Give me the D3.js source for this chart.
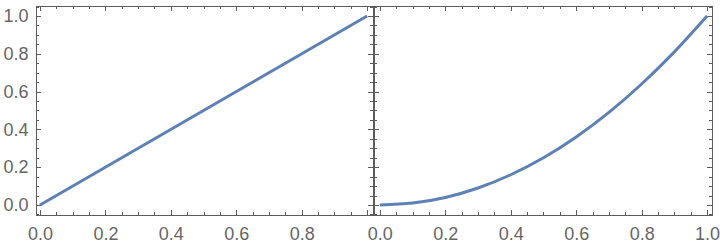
<!DOCTYPE html>
<html>
<head>
<meta charset="utf-8">
<script src="https://cdn.jsdelivr.net/npm/d3@7"></script>
<style>
  body { margin: 0; background: #fff; }
  svg { display: block; }
  .axis text { font-family: 'Liberation Sans', Arial, sans-serif; font-size: 18px; fill: #666; }
  .axis path, .axis line { stroke: #5c5c5c; stroke-width: 1; shape-rendering: crispEdges; }
</style>
</head>
<body>
<div id="chart"></div>
<script>
// left panel: straight line
const linearX = [0, 1]
const linearY = [0, 1]

// right panel: curve
const curveX = [0, 0.1, 0.2, 0.3, 0.4, 0.5, 0.6, 0.7, 0.8, 0.9, 1.0]
const curveY = [0, 0.01, 0.04, 0.09, 0.16, 0.25, 0.36, 0.49, 0.64, 0.81, 1.0]

const majorTicks = [0, 0.2, 0.4, 0.6, 0.8, 1.0]
const leftXLabels = ['0.0', '0.2', '0.4', '0.6', '0.8', '']
const rightXLabels = ['0.0', '0.2', '0.4', '0.6', '0.8', '1.0']
const yLabels = ['0.0', '0.2', '0.4', '0.6', '0.8', '1.0']

const width = 720,
      height = 244

const lineColor = '#5e81b5'

const svg = d3.select('#chart').append('svg')
  .attr('width', width)
  .attr('height', height)

const yScale = d3.scaleLinear()
  .domain([-0.053, 1.058])
  .range([215, 5])

const panels = [
  { xs: linearX, ys: linearY, domain: [-0.0153, 1.018], range: [35, 373], xLabels: leftXLabels, labelsY: true },
  { xs: curveX, ys: curveY, domain: [-0.021, 1.015], range: [373, 712], xLabels: rightXLabels, labelsY: false }
]

const minorOf = (dom) => d3.range(-0.2, 1.25, 0.05)
  .map(v => +v.toFixed(2))
  .filter(v => v >= dom[0] && v <= dom[1] && !majorTicks.includes(v))

panels.forEach(p => {
  const xScale = d3.scaleLinear().domain(p.domain).range(p.range)
  const g = svg.append('g')
  const xMinor = minorOf(p.domain)
  const yMinor = minorOf(yScale.domain())

  // bottom
  g.append('g').attr('class', 'axis')
    .attr('transform', 'translate(0,' + (yScale.range()[0] - 0.5) + ')')
    .call(d3.axisBottom(xScale).tickValues(majorTicks).tickFormat((d, i) => p.xLabels[i])
      .tickSizeInner(-5).tickSizeOuter(0).tickPadding(13))
  g.append('g').attr('class', 'axis')
    .attr('transform', 'translate(0,' + (yScale.range()[0] - 0.5) + ')')
    .call(d3.axisBottom(xScale).tickValues(xMinor).tickFormat('')
      .tickSizeInner(-3).tickSizeOuter(0))

  // top
  g.append('g').attr('class', 'axis')
    .attr('transform', 'translate(0,' + (yScale.range()[1] + 0.5) + ')')
    .call(d3.axisTop(xScale).tickValues(majorTicks).tickFormat('')
      .tickSizeInner(-5).tickSizeOuter(0))
  g.append('g').attr('class', 'axis')
    .attr('transform', 'translate(0,' + (yScale.range()[1] + 0.5) + ')')
    .call(d3.axisTop(xScale).tickValues(xMinor).tickFormat('')
      .tickSizeInner(-3).tickSizeOuter(0))

  // left
  g.append('g').attr('class', 'axis')
    .attr('transform', 'translate(' + (p.range[0] + 0.5) + ',0)')
    .call(d3.axisLeft(yScale).tickValues(majorTicks).tickFormat((d, i) => p.labelsY ? yLabels[i] : '')
      .tickSizeInner(-5).tickSizeOuter(0).tickPadding(7))
  g.append('g').attr('class', 'axis')
    .attr('transform', 'translate(' + (p.range[0] + 0.5) + ',0)')
    .call(d3.axisLeft(yScale).tickValues(yMinor).tickFormat('')
      .tickSizeInner(-3).tickSizeOuter(0))

  // right
  g.append('g').attr('class', 'axis')
    .attr('transform', 'translate(' + (p.range[1] - 0.5) + ',0)')
    .call(d3.axisRight(yScale).tickValues(majorTicks).tickFormat('')
      .tickSizeInner(-5).tickSizeOuter(0))
  g.append('g').attr('class', 'axis')
    .attr('transform', 'translate(' + (p.range[1] - 0.5) + ',0)')
    .call(d3.axisRight(yScale).tickValues(yMinor).tickFormat('')
      .tickSizeInner(-3).tickSizeOuter(0))

  const pts = p.xs.map((x, i) => [x, p.ys[i]])
  const line = d3.line()
    .x(d => xScale(d[0]))
    .y(d => yScale(d[1]))
    .curve(d3.curveMonotoneX)

  g.append('path')
    .datum(pts)
    .attr('d', line)
    .attr('fill', 'none')
    .attr('stroke', lineColor)
    .attr('stroke-width', 3)
})
</script>
</body>
</html>
